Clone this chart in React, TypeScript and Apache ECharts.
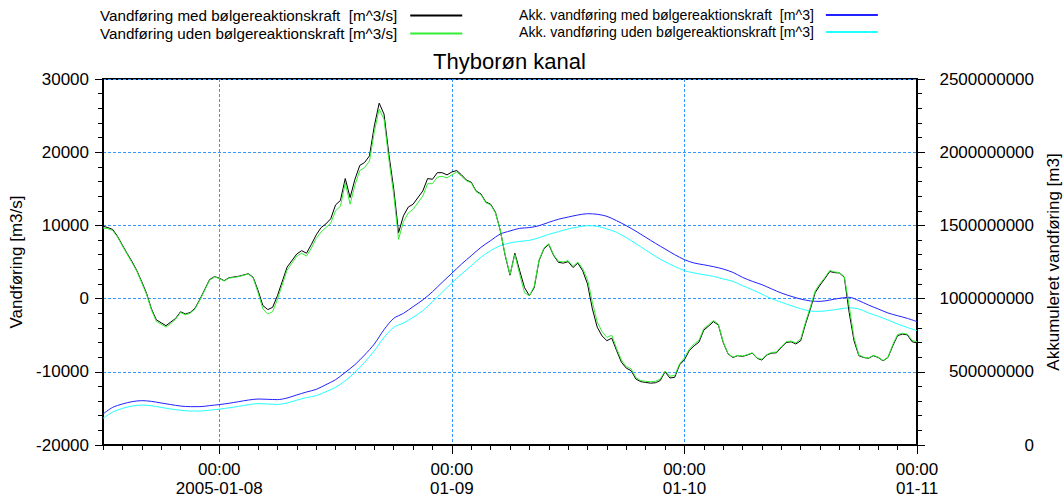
import React, { useEffect, useRef } from 'react';
import * as echarts from 'echarts';

const FONT = '"Liberation Sans", Arial, sans-serif';

// Series names / labels
const titleText = 'Thyborøn kanal';
const nameMed = 'Vandføring med bølgereaktionskraft  [m^3/s]';
const nameUden = 'Vandføring uden bølgereaktionskraft [m^3/s]';
const nameAccMed = 'Akk. vandføring med bølgereaktionskraft  [m^3]';
const nameAccUden = 'Akk. vandføring uden bølgereaktionskraft [m^3]';
const leftAxisName = 'Vandføring [m3/s]';
const rightAxisName = 'Akkumuleret vandføring [m3]';
const dayLabels: Record<number, string> = { 8: '2005-01-08', 9: '01-09', 10: '01-10', 11: '01-11' };

// Time: hours after 2005-01-07 12:00
const startDate = [2005, 0, 7, 12];
const spanHours = 84;

const flowHours = [
  0, 0.5, 1, 1.5, 2, 2.5, 3, 3.5, 4, 4.5, 5, 5.5, 6, 6.5, 7, 7.5, 8, 8.5, 9, 9.5, 10, 11, 11.5, 12, 12.5, 13, 14, 15, 15.5,
  16, 16.5, 17, 17.5, 18, 19, 20, 20.5, 21, 21.5, 22, 22.5, 23, 23.5, 24, 24.5, 25, 25.5, 26, 26.5, 27, 27.5, 28, 28.5,
  29, 29.5, 30, 30.5, 31, 31.5, 32, 33, 33.5, 34, 34.5, 35, 35.5, 36, 36.5, 37, 37.5, 38, 38.5, 39, 39.5, 40, 40.5, 41,
  41.5, 42, 42.5, 43, 43.5, 44, 44.5, 45, 45.5, 46, 46.5, 47, 47.5, 48, 48.5, 49, 49.5, 50, 50.5, 51, 51.5, 52, 52.5, 53,
  53.5, 54, 54.5, 55, 55.5, 56, 56.5, 57, 57.5, 58, 58.5, 59, 59.5, 60, 60.5, 61, 61.5, 62, 62.5, 63, 63.5, 64, 64.5, 65,
  65.5, 66, 66.5, 67, 67.5, 68, 68.5, 69, 69.5, 70, 70.5, 71, 71.5, 72, 72.5, 73, 73.5, 74, 74.5, 75, 75.5, 76, 76.5, 77,
  77.5, 78, 78.5, 79, 79.5, 80, 80.5, 81, 81.5, 82, 82.5, 83, 83.5, 84,
];

const flowMed = [
  9900, 9700, 9450, 8500, 7300, 6150, 5050, 3800, 2300, 700, -1400, -2900, -3300, -3700, -3200, -2700, -1800, -2100, -1900, -1300, -100, 2600, 3000, 2800, 2450, 2850, 3050, 3400, 2900,
  1100, -950, -1500, -1200, 400, 4300, 6100, 6550, 6200, 7400, 8700, 9700, 10200, 10900, 12800, 13400, 16400, 13800, 16300, 18200, 18600, 19500, 23600, 26700,
  25200, 19700, 15000, 9000, 11300, 12500, 12900, 14700, 16400, 16300, 17200, 17200, 16900, 17300, 17500, 16900, 16200, 15900, 14700, 14300, 13200, 12900, 11800, 9300,
  5900, 3200, 6200, 3800, 1500, 400, 1500, 5200, 6800, 7400, 5900, 4950, 4850, 5050, 4250, 4850, 3800, 2000, -1400, -3900, -5100, -5750, -5400, -7100,
  -8700, -9500, -9850, -11000, -11350, -11450, -11550, -11500, -11200, -10000, -10850, -10750, -9050, -8350, -7100, -6450, -5950, -4300, -3750, -3150, -3600, -6000, -7550, -8050,
  -7800, -7900, -7700, -7450, -8150, -8400, -7700, -7450, -7400, -6650, -6000, -5900, -6200, -5750, -3450, -1400, 850, 1850, 2750, 3700, 3550, 3500, 2900, -1900,
  -5750, -7800, -8050, -8150, -7800, -8050, -8500, -8050, -6450, -5050, -4850, -4950, -5900, -6050,
];

const flowUden = [
  9650, 9550, 9300, 8400, 7200, 6050, 4900, 3700, 2150, 550, -1550, -3100, -3500, -3900, -3400, -2800, -1900, -2200, -2000, -1400, -200, 2500, 2950, 2750, 2400, 2800, 3000, 3350, 2800,
  800, -1400, -2100, -1800, -100, 3900, 5800, 6200, 5800, 6900, 8200, 9100, 9700, 10300, 12000, 12600, 15800, 12900, 15500, 17500, 17900, 18800, 22800, 25900,
  24500, 19000, 14200, 8100, 10500, 11700, 12200, 14000, 15700, 15700, 16600, 16700, 16500, 16900, 17300, 16700, 16100, 15800, 14600, 14200, 13100, 12800, 11700, 9300,
  6000, 3300, 6000, 3300, 800, 400, 1700, 5300, 6900, 7500, 6000, 5100, 5000, 5200, 4400, 5000, 4100, 2600, -500, -3200, -4500, -5300, -5000, -6800,
  -8400, -9300, -9600, -10800, -11200, -11300, -11350, -11300, -11000, -9900, -10600, -10500, -8900, -8100, -6900, -6200, -5700, -4100, -3550, -3000, -3500, -5900, -7500, -8000,
  -7750, -7850, -7650, -7400, -8100, -8300, -7650, -7350, -7300, -6550, -5900, -5800, -6050, -5500, -3200, -1150, 1100, 2050, 2900, 3850, 3650, 3550, 3000, -1000,
  -5300, -7700, -8000, -8100, -7750, -8000, -8450, -8000, -6300, -4900, -4750, -4850, -5700, -5900,
];

// Accumulated volume, millions of m3, hourly from hour 0 to 84
const accMedMillion = [
  212, 257, 280, 296, 303, 298, 287, 276, 266, 262, 262, 269, 276, 285, 296, 307, 314, 312, 310, 321, 342,
  362, 380, 412, 446, 496, 549, 615, 690, 788, 865, 899, 945, 991, 1047, 1111, 1173, 1236, 1293, 1350, 1396,
  1441, 1462, 1480, 1485, 1498, 1521, 1542, 1557, 1571, 1580, 1576, 1562, 1532, 1498, 1460, 1419, 1378, 1339,
  1300, 1266, 1243, 1231, 1218, 1202, 1179, 1145, 1118, 1095, 1066, 1038, 1016, 997, 984, 981, 990, 1002, 1009,
  986, 956, 929, 902, 883, 865, 843,
];
const accUdenMillion = [
  182, 225, 250, 266, 273, 268, 257, 246, 237, 232, 232, 238, 245, 254, 264, 275, 283, 280, 277, 287, 306,
  324, 337, 364, 394, 439, 496, 565, 644, 735, 804, 833, 872, 918, 979, 1043, 1107, 1168, 1225, 1282, 1328,
  1362, 1380, 1391, 1398, 1416, 1439, 1457, 1476, 1489, 1498, 1494, 1476, 1453, 1416, 1375, 1332, 1289, 1252,
  1220, 1191, 1175, 1163, 1152, 1134, 1118, 1088, 1061, 1030, 999, 975, 952, 931, 915, 913, 920, 929, 937,
  929, 902, 879, 854, 826, 803, 781,
];

const leftTicks = { min: -20000, max: 30000, interval: 10000 };
const rightTicks = { min: 0, max: 2500000000, interval: 500000000 };

export default function App() {
  const ref = useRef<HTMLDivElement>(null);

  useEffect(() => {
    if (!ref.current) return;
    const chart = echarts.init(ref.current, null, { renderer: 'svg' });
    const t0 = new Date(startDate[0], startDate[1], startDate[2], startDate[3]).getTime();
    const HOUR = 3600 * 1000;
    const DAY = 24 * HOUR;
    const ts = (h: number) => t0 + h * HOUR;

    const gridColor = '#3399ff';
    const black = '#000';

    const legendCommon = {
      orient: 'vertical' as const,
      top: 8,
      align: 'right' as const,
      icon: 'rect',
      itemWidth: 52,
      itemHeight: 2,
      itemGap: 3,
      padding: 0,
      selectedMode: false,
    };

    chart.setOption({
      animation: false,
      backgroundColor: '#fff',
      title: {
        text: titleText,
        left: 433,
        top: 50,
        padding: 0,
        textStyle: { fontSize: 22, fontWeight: 'normal', color: black, fontFamily: FONT },
      },
      legend: [
        {
          ...legendCommon,
          left: 100,
          data: [nameMed, nameUden],
          textStyle: { fontSize: 15.2, fontFamily: FONT, color: black, padding: [0, 8, 0, 0] },
        },
        {
          ...legendCommon,
          left: 519,
          data: [nameAccMed, nameAccUden],
          textStyle: { fontSize: 14.1, fontFamily: FONT, color: black, padding: [0, 7, 0, 0] },
        },
      ],
      grid: {
        left: 103,
        right: 146,
        top: 79,
        bottom: 54,
        outerBoundsMode: 'none',
        containLabel: false,
        show: true,
        borderColor: black,
        borderWidth: 2,
        backgroundColor: 'transparent',
      },
      xAxis: [
        {
          type: 'time',
          min: ts(0),
          max: ts(spanHours),
          minInterval: DAY,
          maxInterval: DAY,
          axisLine: { show: true, onZero: false, lineStyle: { color: black, width: 2 } },
          axisTick: { show: true, length: 9, lineStyle: { color: black, width: 1 } },
          axisLabel: {
            fontSize: 17,
            fontFamily: FONT,
            color: black,
            lineHeight: 19,
            margin: 15,
            showMinLabel: false,
            showMaxLabel: true,
            hideOverlap: false,
            formatter: (value: number) => {
              const d = new Date(value);
              if (d.getHours() !== 0 || d.getMinutes() !== 0) return '';
              const lbl = dayLabels[d.getDate()];
              if (!lbl) return '';
              return '00:00\n' + lbl;
            },
          },
          splitLine: { show: true, lineStyle: { color: gridColor, width: 1, type: [3, 2] } },
        },
        {
          type: 'value',
          min: 0,
          max: spanHours,
          interval: 2,
          position: 'bottom',
          axisLine: { show: false, onZero: false },
          axisTick: { show: true, length: 5, lineStyle: { color: black, width: 1 } },
          axisLabel: { show: false },
          splitLine: { show: false },
        },
      ],
      yAxis: [
        {
          type: 'value',
          position: 'left',
          ...leftTicks,
          name: leftAxisName,
          nameLocation: 'middle',
          nameGap: 76,
          nameTextStyle: { fontSize: 17, fontFamily: FONT, color: black },
          axisLine: { show: true, onZero: false, lineStyle: { color: black, width: 2 } },
          axisTick: { show: true, length: 8, lineStyle: { color: black, width: 1 } },
          minorTick: { show: true, splitNumber: 5, length: 5, lineStyle: { color: black, width: 1 } },
          axisLabel: {
            fontSize: 17,
            fontFamily: FONT,
            color: black,
            margin: 14,
            formatter: (v: number) => String(v),
          },
          splitLine: { show: true, lineStyle: { color: gridColor, width: 1, type: [3, 2] } },
        },
        {
          type: 'value',
          position: 'right',
          ...rightTicks,
          name: rightAxisName,
          nameLocation: 'middle',
          nameGap: 121,
          nameRotate: 90,
          nameTextStyle: { fontSize: 17, fontFamily: FONT, color: black },
          axisLine: { show: true, onZero: false, lineStyle: { color: black, width: 2 } },
          axisTick: { show: true, length: 8, lineStyle: { color: black, width: 1 } },
          minorTick: { show: true, splitNumber: 5, length: 5, lineStyle: { color: black, width: 1 } },
          axisLabel: {
            fontSize: 17,
            fontFamily: FONT,
            color: black,
            margin: 117,
            align: 'right',
            formatter: (v: number) => String(v),
          },
          splitLine: { show: false },
        },
      ],
      series: [
        {
          name: nameAccUden,
          type: 'line',
          yAxisIndex: 1,
          data: accUdenMillion.map((v, i) => [ts(i), v * 1e6]),
          showSymbol: false,
          symbol: 'none',
          smooth: 0.3,
          lineStyle: { color: '#22ffff', width: 1 },
          itemStyle: { color: '#22ffff' },
        },
        {
          name: nameAccMed,
          type: 'line',
          yAxisIndex: 1,
          data: accMedMillion.map((v, i) => [ts(i), v * 1e6]),
          showSymbol: false,
          symbol: 'none',
          smooth: 0.3,
          lineStyle: { color: '#2222ff', width: 1 },
          itemStyle: { color: '#2222ff' },
        },
        {
          name: nameMed,
          type: 'line',
          yAxisIndex: 0,
          data: flowHours.map((h, i) => [ts(h), flowMed[i]]),
          showSymbol: false,
          symbol: 'none',
          lineStyle: { color: '#000000', width: 1 },
          itemStyle: { color: '#000000' },
        },
        {
          name: nameUden,
          type: 'line',
          yAxisIndex: 0,
          data: flowHours.map((h, i) => [ts(h), flowUden[i]]),
          showSymbol: false,
          symbol: 'none',
          lineStyle: { color: '#33ee33', width: 1 },
          itemStyle: { color: '#33ee33' },
        },
      ],
    });

    return () => chart.dispose();
  }, []);

  return (
    <div
      ref={ref}
      style={{ position: 'fixed', left: 0, top: 0, width: 1063, height: 499, background: '#fff' }}
    />
  );
}
